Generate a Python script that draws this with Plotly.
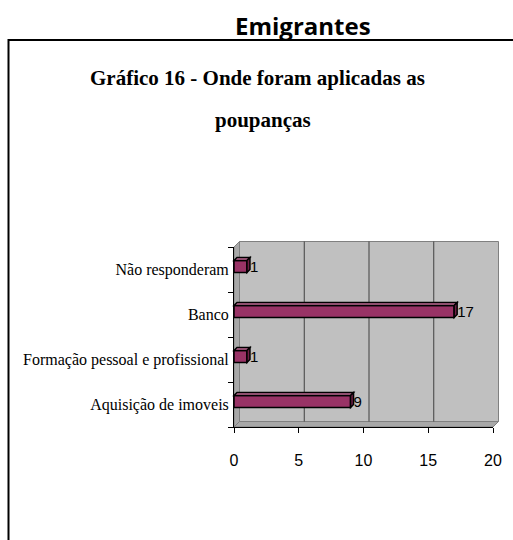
import plotly.graph_objects as go

# ---- data ----
categories = ["Aquisição de imoveis", "Formação pessoal e profissional", "Banco", "Não responderam"]
values = [9, 1, 17, 1]
x_ticks = [0, 5, 10, 15, 20]

# ---- layout constants (body margin removed via post_script) ----
OFF = 0
W_FIG, H_FIG = 513, 540
ML, MR, MT, MB = 234, 20, 247, 113
PW, PH = W_FIG - ML - MR, H_FIG - MT - MB
XMAX = 20
NCAT = len(categories)
WALL_D = 5.5      # px depth of back wall
BAR_D = 3.0       # px depth of bars
BAR_W = 0.267
BAR_OFF = -0.067

BAR_FRONT = "#993366"
BAR_TOP = "#C06A95"
BAR_END = "#6E2046"
WALL = "#C0C0C0"
SIDE = "#A8A8A8"
EDGE = "#808080"


def xp(v):
    return v / XMAX


def yp(c):
    return (c + 0.5) / NCAT


def dxp(px):
    return px / PW


def dyp(px):
    return px / PH


def fx(page_px):
    return (page_px - OFF - ML) / PW


def fy(page_py):
    return 1 - (page_py - OFF - MT) / PH


fig = go.Figure()
fig.add_trace(go.Bar(
    y=categories, x=values, orientation="h",
    width=BAR_W, offset=BAR_OFF,
    marker=dict(color=BAR_FRONT, line=dict(color="black", width=1.5)),
    text=[str(v) for v in values], textposition="outside", constraintext="none",
    textfont=dict(family="Liberation Sans", size=15, color="black"),
    cliponaxis=False,
))

shapes = []
dw, dh = dxp(WALL_D), dyp(WALL_D)
# back wall
shapes.append(dict(type="rect", xref="paper", yref="paper", layer="below",
                   x0=xp(0) + dw, x1=xp(XMAX) + dw, y0=yp(-0.5) + dh, y1=yp(NCAT - 0.5) + dh,
                   fillcolor=WALL, line=dict(color=EDGE, width=1)))
# left side wall
shapes.append(dict(type="path", xref="paper", yref="paper", layer="below",
                   path=f"M {xp(0)},{yp(-0.5)} L {xp(0)+dw},{yp(-0.5)+dh} L {xp(0)+dw},{yp(NCAT-0.5)+dh} L {xp(0)},{yp(NCAT-0.5)} Z",
                   fillcolor=SIDE, line=dict(color=EDGE, width=1)))
# floor
shapes.append(dict(type="path", xref="paper", yref="paper", layer="below",
                   path=f"M {xp(0)},{yp(-0.5)} L {xp(0)+dw},{yp(-0.5)+dh} L {xp(XMAX)+dw},{yp(-0.5)+dh} L {xp(XMAX)},{yp(-0.5)} Z",
                   fillcolor=SIDE, line=dict(color=EDGE, width=1)))
# gridlines on back wall
for t in x_ticks[1:-1]:
    shapes.append(dict(type="line", xref="paper", yref="paper", layer="below",
                       x0=xp(t) + dw, x1=xp(t) + dw, y0=yp(-0.5) + dh, y1=yp(NCAT - 0.5) + dh,
                       line=dict(color="#404040", width=1)))

# 3D bar faces
db, dbh = dxp(BAR_D), dyp(BAR_D)
for i, v in enumerate(values):
    yb = yp(i + BAR_OFF)
    yt = yp(i + BAR_OFF + BAR_W)
    x0, x1 = xp(0), xp(v)
    shapes.append(dict(type="path", xref="paper", yref="paper", layer="above",
                       path=f"M {x0},{yt} L {x0+db},{yt+dbh} L {x1+db},{yt+dbh} L {x1},{yt} Z",
                       fillcolor=BAR_TOP, line=dict(color="black", width=1.5)))
    shapes.append(dict(type="path", xref="paper", yref="paper", layer="above",
                       path=f"M {x1},{yb} L {x1},{yt} L {x1+db},{yt+dbh} L {x1+db},{yb+dbh} Z",
                       fillcolor=BAR_END, line=dict(color="black", width=1.5)))

# outer frame
shapes.append(dict(type="path", xref="paper", yref="paper", layer="above",
                   path=f"M {fx(514)},{fy(40)} L {fx(8.5)},{fy(40)} L {fx(8.5)},{fy(541)}",
                   line=dict(color="black", width=2)))

annotations = [
    dict(text="<b>Emigrantes</b>", xref="paper", yref="paper", x=fx(303), y=fy(25),
         xanchor="center", yanchor="middle", showarrow=False,
         font=dict(family="Open Sans", size=24, color="black")),
    dict(text="<b>Gráfico 16 - Onde foram aplicadas as</b>", xref="paper", yref="paper",
         x=fx(257), y=fy(78), xanchor="center", yanchor="middle", showarrow=False,
         font=dict(family="Liberation Serif", size=21, color="black")),
    dict(text="<b>poupanças</b>", xref="paper", yref="paper",
         x=fx(263), y=fy(120), xanchor="center", yanchor="middle", showarrow=False,
         font=dict(family="Liberation Serif", size=21, color="black")),
]

fig.update_layout(
    width=W_FIG, height=H_FIG,
    margin=dict(l=ML, r=MR, t=MT, b=MB, pad=0),
    paper_bgcolor="white", plot_bgcolor="rgba(0,0,0,0)",
    showlegend=False,
    shapes=shapes, annotations=annotations,
    xaxis=dict(range=[0, XMAX], tickvals=x_ticks, showgrid=False, zeroline=False,
               showline=True, linecolor="black", linewidth=1,
               ticks="outside", ticklen=5, tickcolor="black", ticklabelstandoff=14,
               tickfont=dict(family="Liberation Sans", size=16, color="black"),
               fixedrange=True),
    yaxis=dict(type="category", categoryorder="array", categoryarray=categories,
               range=[-0.5, NCAT - 0.5], showgrid=False, zeroline=False,
               showline=True, linecolor="black", linewidth=1,
               ticks="outside", ticklen=5, tickcolor="black", tickson="boundaries",
               ticklabelstandoff=1,
               tickfont=dict(family="Liberation Serif", size=16, color="black"),
               fixedrange=True),
)

fig.write_html(
    "out.html",
    config={"displayModeBar": False},
    post_script="document.body.style.margin='0';document.body.style.overflow='hidden';",
)
